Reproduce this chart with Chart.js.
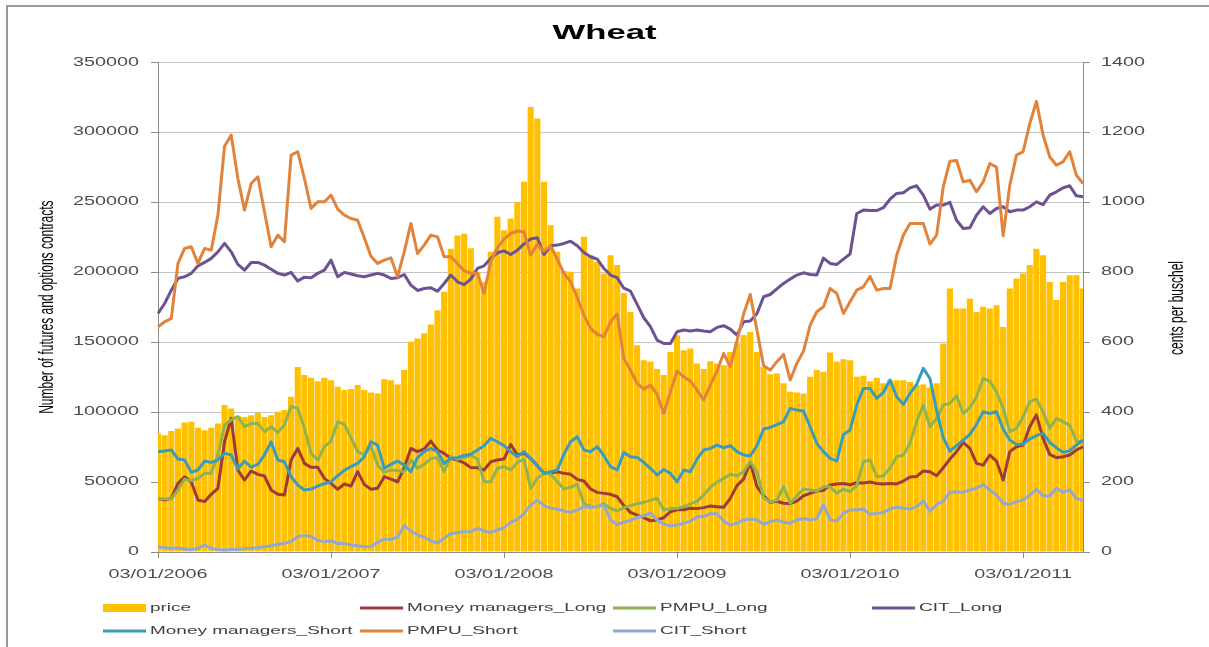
<!DOCTYPE html>
<html>
<head>
<meta charset="utf-8">
<title>Wheat</title>
<script src="https://cdn.jsdelivr.net/npm/chart.js@4.4.1/dist/chart.umd.min.js"></script>
<style>
  html, body { margin: 0; padding: 0; background: #fff; }
  canvas { display: block; }
</style>
</head>
<body>
<canvas id="chart" width="1209" height="647"></canvas>
<script>
// weekly COT data, sampled every second week from 03/01/2006
const price = [
  339, 334, 346, 353, 370, 372, 355, 348, 355, 367,
  420, 410, 389, 386, 391, 398, 386, 391, 401, 406,
  444, 529, 506, 498, 488, 498, 491, 472, 463, 466,
  477, 463, 456, 453, 494, 491, 479, 520, 601, 610,
  625, 650, 691, 744, 867, 905, 910, 868, 801, 772,
  858, 958, 920, 953, 1000, 1058, 1272, 1239, 1058, 934,
  858, 803, 801, 753, 901, 848, 829, 796, 848, 820,
  740, 686, 591, 548, 544, 523, 506, 572, 619, 577,
  582, 539, 523, 545, 539, 534, 572, 596, 620, 629,
  572, 529, 508, 510, 482, 458, 456, 453, 501, 520,
  515, 570, 544, 551, 548, 501, 504, 488, 498, 482,
  491, 491, 491, 486, 477, 479, 470, 482, 596, 753,
  696, 696, 724, 686, 701, 696, 705, 643, 753, 782,
  796, 820, 867, 848, 772, 720, 772, 791, 791, 753
];
const mmLong = [
  38300, 37100, 38300, 49000, 53800, 50200, 37100, 36000, 41200, 45500,
  78800, 95500, 58600, 51400, 57900, 55500, 54300, 44300, 41200, 40700,
  65700, 74000, 63300, 60500, 60500, 52600, 49000, 44800, 48600, 47100,
  57400, 48300, 44800, 45500, 53800, 52100, 50200, 60200, 74000, 71700,
  73600, 79300, 72900, 70500, 66900, 65700, 63600, 60400, 60200, 58600,
  64500, 65700, 66400, 76900, 69300, 70500, 66900, 61700, 56200, 56400,
  57400, 56200, 55500, 51900, 50700, 45000, 42600, 41900, 41200, 39500,
  33200, 28300, 26400, 24500, 22400, 22900, 24500, 28800, 30200, 30200,
  31200, 31000, 31700, 32900, 32400, 31900, 38300, 47400, 52100, 64000,
  46700, 40200, 35500, 36300, 34800, 34500, 36400, 40200, 41900, 43600,
  44000, 47900, 48600, 49000, 48100, 49500, 49300, 50000, 49000, 48600,
  49000, 48600, 50700, 53600, 54000, 57900, 57400, 54500, 60200, 66400,
  71700, 78300, 74000, 63300, 62100, 69300, 65000, 51400, 71700, 75200,
  76400, 89500, 98000, 81200, 69800, 67400, 68100, 69300, 72900, 75200
];
const pmpuLong = [
  38300, 37900, 37900, 44300, 52100, 51000, 52600, 56200, 56200, 69300,
  90700, 94300, 96700, 89500, 91900, 91900, 86000, 89500, 85500, 90700,
  104000, 102600, 88300, 70500, 65700, 75200, 79300, 93100, 91200, 81700,
  71700, 69300, 76000, 62100, 56900, 58600, 58300, 57400, 65700, 59800,
  62600, 66900, 67400, 57400, 68100, 66200, 67500, 69300, 66400, 50200,
  50200, 59800, 61000, 58600, 64000, 66400, 45500, 52600, 56200, 55500,
  50200, 45000, 46400, 48300, 34800, 32400, 32400, 34500, 31200, 29300,
  31700, 33100, 34500, 35500, 36900, 38300, 30000, 31000, 31200, 32400,
  34300, 36400, 40700, 46400, 49800, 52600, 55500, 54500, 57400, 64500,
  57400, 38800, 35700, 37000, 46700, 34800, 40200, 45000, 44300, 43600,
  46700, 46700, 41900, 45000, 43100, 47400, 64500, 65700, 53800, 54500,
  59800, 68100, 69300, 77600, 93100, 105000, 89500, 95500, 105000, 106200,
  111700, 99000, 103100, 111000, 124000, 122000, 114500, 102600, 86000, 88300,
  96700, 107400, 109300, 100200, 88300, 95500, 93100, 90700, 79300, 78800
];
const citLong = [
  170500, 177600, 187100, 195500, 196700, 199100, 204500, 206900, 209800, 214500,
  220500, 214500, 205500, 201400, 206900, 206900, 205000, 202100, 199100, 197900,
  199800, 193600, 196400, 196000, 199100, 201400, 208600, 196700, 199800, 198600,
  197400, 196700, 197900, 199100, 197900, 195500, 196000, 198300, 190700, 186900,
  188300, 188800, 186400, 191900, 197900, 193100, 191000, 195000, 202600, 204500,
  209800, 213800, 215200, 212600, 215700, 220200, 223600, 224500, 212600, 218800,
  219300, 220500, 222100, 218800, 214000, 211000, 209300, 202600, 197900, 196000,
  188500, 186400, 176900, 167400, 161000, 151400, 149000, 149000, 157400, 158600,
  157900, 158600, 157900, 157400, 160500, 161700, 159300, 155000, 164500, 165000,
  170200, 182400, 184000, 188000, 191900, 195000, 197900, 199500, 198300, 197900,
  210000, 206200, 205500, 209300, 212900, 241900, 244300, 244000, 244000, 246000,
  252100, 256200, 256700, 260200, 261700, 255000, 245000, 247900, 247900, 249800,
  237100, 231200, 231700, 240700, 246700, 241900, 245500, 246700, 243100, 244300,
  244300, 246700, 250200, 248300, 255000, 257400, 260200, 261700, 254500, 253800
];
const mmShort = [
  71700, 72100, 72900, 66400, 65700, 56900, 58600, 65000, 64000, 65700,
  70500, 69300, 59300, 65000, 60700, 62600, 69300, 78800, 65700, 64500,
  53800, 47900, 44300, 45000, 47100, 48800, 50200, 54500, 58300, 61000,
  63300, 68100, 78800, 76400, 59800, 62600, 65000, 62100, 57400, 67400,
  71700, 74000, 71700, 63300, 66900, 67400, 69000, 69900, 72900, 76000,
  81200, 78800, 76000, 71700, 68100, 71700, 66900, 61700, 56200, 57400,
  58600, 69800, 78800, 82400, 72900, 71700, 75200, 68800, 61000, 58600,
  71000, 68100, 67600, 64000, 59800, 55000, 59000, 56200, 50200, 58600,
  57400, 66400, 72900, 74000, 76400, 74500, 76000, 71700, 69300, 68600,
  76000, 87900, 89000, 91000, 93100, 102600, 101400, 100700, 89500, 77600,
  71700, 66900, 65000, 84000, 87100, 105000, 116900, 116900, 109800, 114000,
  122900, 111000, 105500, 113300, 119800, 131200, 124000, 101400, 81700, 72100,
  76000, 80000, 84000, 91200, 100200, 99000, 100200, 87900, 80000, 76900,
  77100, 80700, 83100, 84800, 78300, 74500, 71200, 72400, 76400, 80000
];
const pmpuShort = [
  161000, 164500, 166900, 206200, 216900, 218100, 206200, 216900, 215700, 240700,
  290000, 298000, 266900, 244300, 263300, 268100, 243100, 218100, 226400, 221700,
  283600, 286000, 266900, 245500, 250200, 250200, 255000, 245000, 240700, 238300,
  237100, 224500, 211400, 206200, 208600, 210200, 196700, 214500, 234800, 213300,
  219300, 226400, 225200, 211000, 211000, 206200, 201000, 199100, 199100, 184800,
  207400, 217400, 223600, 227600, 229300, 228800, 212100, 219800, 215000, 218800,
  209300, 199100, 193100, 181700, 169300, 159800, 155500, 153800, 164500, 170000,
  138300, 130000, 120500, 116400, 119300, 112600, 99000, 114500, 129300, 125200,
  122100, 115700, 108600, 119300, 129300, 141900, 132400, 150700, 170000, 184000,
  158600, 133100, 130000, 136000, 141200, 122900, 134800, 143600, 162100, 171700,
  175200, 188300, 184800, 170500, 178800, 187100, 189500, 197000, 187100, 188300,
  188300, 212100, 226400, 234800, 234800, 234800, 220000, 226400, 261000, 279300,
  279800, 264500, 265700, 257400, 264500, 277600, 275000, 226000, 262100, 283600,
  286000, 306200, 322000, 298000, 282400, 276400, 278800, 286000, 269300, 263300
];
const citShort = [
  3800, 3100, 2600, 2600, 2100, 1700, 2600, 5000, 2600, 1700,
  1400, 1700, 1900, 2400, 2600, 3100, 3800, 4500, 5500, 6200,
  7400, 11000, 11700, 11000, 8300, 7400, 8100, 6000, 6000, 5000,
  4500, 3800, 3800, 6900, 9300, 9000, 10700, 18800, 15000, 12100,
  10700, 7900, 6400, 9800, 13100, 14000, 14400, 14500, 16900, 15000,
  14000, 15700, 17400, 21200, 23300, 27400, 33600, 37100, 33100, 31200,
  30700, 29300, 28300, 30000, 32400, 31700, 32600, 33600, 22900, 19500,
  21300, 22600, 24800, 25700, 28000, 22900, 19800, 18800, 19300, 20500,
  22100, 25000, 25500, 27400, 27400, 22100, 19300, 20500, 22900, 23600,
  22900, 19800, 21700, 22900, 21200, 20500, 22900, 24000, 22900, 24000,
  33600, 22900, 22100, 27600, 30000, 30000, 30700, 26900, 27600, 28300,
  30700, 32100, 31200, 30700, 32400, 36400, 29000, 34000, 36400, 42600,
  43100, 42600, 44300, 45500, 48300, 44300, 40700, 34800, 34000, 36000,
  37100, 40700, 45000, 40000, 40200, 45500, 42600, 44300, 38300, 37100
];

const xTickLabels = ["03/01/2006", "03/01/2007", "03/01/2008", "03/01/2009", "03/01/2010", "03/01/2011"];

// one category every 14 days
const pad2 = (n) => String(n).padStart(2, "0");
const categories = price.map((_, i) => {
  const d = new Date(2006, 0, 3 + 14 * i);
  return pad2(d.getDate()) + "/" + pad2(d.getMonth() + 1) + "/" + d.getFullYear();
});
const day0 = new Date(2006, 0, 3);
const xTickIdx = xTickLabels.map((s) => {
  const [d, m, y] = s.split("/").map(Number);
  return Math.round((new Date(y, m - 1, d) - day0) / 864e5 / 14);
});

// the original picture is stretched sideways, so text gets stretched too
const SX = 1.65;
const canvas = document.getElementById("chart");
const ctx = canvas.getContext("2d");
const rawFill = ctx.fillText.bind(ctx);
const rawMeasure = ctx.measureText.bind(ctx);
ctx.fillText = function (text, x, y) {
  const m = ctx.getTransform();
  ctx.save();
  ctx.translate(x, y);
  if (Math.abs(m.b) > Math.abs(m.a)) ctx.scale(1, SX);
  else ctx.scale(SX, 1);
  rawFill(text, 0, 0);
  ctx.restore();
};
ctx.measureText = function (text) {
  const r = rawMeasure(text);
  return {
    width: r.width * SX,
    actualBoundingBoxAscent: r.actualBoundingBoxAscent,
    actualBoundingBoxDescent: r.actualBoundingBoxDescent,
  };
};

const FONT = "'Liberation Sans', Arial, sans-serif";
const tickFont = { family: FONT, size: 12 };
const tickColor = "#4d4d4d";
const lineOpts = { type: "line", yAxisID: "y", borderWidth: 3, pointRadius: 0, tension: 0, fill: false, borderJoinStyle: "round" };

// legend slots: [x, y] of the key start
const legendSlots = [[103, 608], [360, 608], [613, 608], [872, 608], [103, 631], [360, 631], [613, 631]];

const extras = {
  id: "extras",
  beforeDraw(chart) {
    const c = chart.ctx;
    c.save();
    c.fillStyle = "#fff";
    c.fillRect(0, 0, chart.width, chart.height);
    c.strokeStyle = "#9a9a9a";
    c.lineWidth = 2;
    c.beginPath();
    c.moveTo(7, chart.height + 5);
    c.lineTo(7, 6);
    c.lineTo(chart.width + 5, 6);
    c.stroke();
    c.restore();
  },
  afterDraw(chart) {
    const c = chart.ctx;
    // right axis title
    c.save();
    c.font = "12px " + FONT;
    c.fillStyle = "#000";
    c.textAlign = "center";
    c.textBaseline = "middle";
    c.translate(1178, 308);
    c.rotate(-Math.PI / 2);
    c.fillText("cents per buschel", 0, 0);
    c.restore();

    // legend
    c.save();
    c.font = "11.5px " + FONT;
    c.textAlign = "left";
    c.textBaseline = "middle";
    chart.data.datasets.forEach((ds, i) => {
      const [x, y] = legendSlots[i];
      if (ds.type === "bar") {
        c.fillStyle = ds.backgroundColor;
        c.fillRect(x, y - 4, 43, 8);
      } else {
        c.strokeStyle = ds.borderColor;
        c.lineWidth = 3;
        c.beginPath();
        c.moveTo(x, y);
        c.lineTo(x + 43, y);
        c.stroke();
      }
      c.fillStyle = "#404040";
      c.fillText(ds.label, x + 47, y);
    });
    c.restore();
  },
};

new Chart(ctx, {
  data: {
    labels: categories,
    datasets: [
      { type: "bar", label: "price", data: price, yAxisID: "y2", backgroundColor: "#FFC000", barPercentage: 0.92, categoryPercentage: 1, order: 10 },
      { ...lineOpts, label: "Money managers_Long", data: mmLong, borderColor: "#9E3B37", order: 7 },
      { ...lineOpts, label: "PMPU_Long", data: pmpuLong, borderColor: "#8FB352", order: 6 },
      { ...lineOpts, label: "CIT_Long", data: citLong, borderColor: "#6C5193", order: 5 },
      { ...lineOpts, label: "Money managers_Short", data: mmShort, borderColor: "#3A9CBA", order: 4 },
      { ...lineOpts, label: "PMPU_Short", data: pmpuShort, borderColor: "#E1833A", order: 3 },
      { ...lineOpts, label: "CIT_Short", data: citShort, borderColor: "#93A8D0", order: 2 },
    ],
  },
  options: {
    responsive: false,
    devicePixelRatio: 1,
    animation: false,
    events: [],
    layout: { padding: { left: 0, right: 0, top: 0, bottom: 55 } },
    plugins: {
      legend: { display: false },
      tooltip: { enabled: false },
      title: {
        display: true,
        text: "Wheat",
        color: "#000",
        font: { family: FONT, size: 21, weight: "bold" },
        padding: { top: 21, bottom: 16 },
      },
    },
    scales: {
      x: {
        offset: false,
        grid: { offset: false, drawOnChartArea: false, tickLength: 6, tickColor: "#8c8c8c" },
        border: { color: "#8c8c8c" },
        ticks: {
          autoSkip: false,
          maxRotation: 0,
          padding: 9,
          color: tickColor,
          font: tickFont,
          callback: (v) => {
            const k = xTickIdx.indexOf(v);
            return k >= 0 ? xTickLabels[k] : "";
          },
        },
        afterBuildTicks: (s) => {
          s.ticks = xTickIdx.map((v) => ({ value: v }));
        },
        afterFit: (s) => {
          s.height = 40;
        },
      },
      y: {
        position: "left",
        min: 0,
        max: 350000,
        ticks: { stepSize: 50000, padding: 12, color: tickColor, font: tickFont, callback: (v) => String(v) },
        grid: { color: "#c6c6c6", tickLength: 7, tickColor: "#8c8c8c" },
        border: { color: "#8c8c8c" },
        title: {
          display: true,
          text: "Number of futures and options contracts",
          color: "#000",
          font: { family: FONT, size: 12 },
          padding: { top: 40, bottom: 0 },
        },
        afterFit: (s) => {
          s.width = 158;
        },
      },
      y2: {
        position: "right",
        min: 0,
        max: 1400,
        ticks: { stepSize: 200, padding: 11, color: tickColor, font: tickFont, callback: (v) => String(v) },
        grid: { drawOnChartArea: false, tickLength: 7, tickColor: "#8c8c8c" },
        border: { color: "#8c8c8c" },
        afterFit: (s) => {
          s.width = 126;
        },
      },
    },
  },
  plugins: [extras],
});
</script>
</body>
</html>
